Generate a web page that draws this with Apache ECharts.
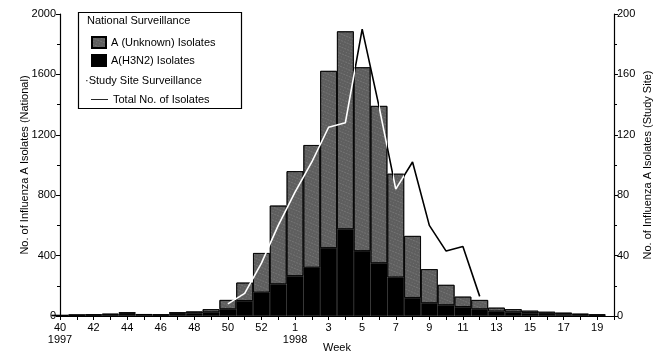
<!DOCTYPE html>
<html>
<head>
<meta charset="utf-8">
<script src="https://cdn.jsdelivr.net/npm/echarts@6/dist/echarts.min.js"></script>
<style>
html,body{margin:0;padding:0;background:#fff;}
#chart{width:665px;height:360px;}
</style>
</head>
<body>
<div id="chart"></div>
<script>
// Week categories (1997 week 40 .. 1998 week 19), plus an empty end slot
const weeks = ['40','41','42','43','44','45','46','47','48','49','50','51','52','53',
  '1','2','3','4','5','6','7','8','9','10','11','12','13','14','15','16','17','18','19'];
const yearStartLabels = { '40': '1997', '1': '1998' };

// National surveillance (left axis)
const h3n2Isolates = [3,5,6,8,15,8,6,15,18,25,45,100,155,210,
  265,320,450,575,430,350,255,120,85,72,60,45,30,25,20,15,12,8,5];
const unknownIsolates = [2,3,4,7,10,4,4,10,12,20,61,121,262,521,
  694,812,1173,1310,1217,1041,687,410,225,134,68,61,25,20,15,13,10,7,5];

// Study site surveillance (right axis)
const studySiteTotal = [null,null,null,null,null,null,null,null,null,null,
  8,15,35,60,82,102,125,128,190,139,84,102,60,43,46,13,
  null,null,null,null,null,null,null];

const leftTicks = { min: 0, max: 2000, interval: 400 };
const rightTicks = { min: 0, max: 200, interval: 40 };

const FONT = 'Liberation Sans, Arial, sans-serif';
const categories = weeks.concat(['']);
const plain = function (v) { return String(v); };
const stipple = {
  symbol: 'rect', symbolSize: 0.6, color: 'rgba(255,255,255,0.45)',
  dashArrayX: [[1, 2], [2, 1]], dashArrayY: [1, 2], rotation: 0.4
};
// line drawn against the week index scale (same scale as the category ticks)
const studySitePoints = studySiteTotal.map(function (v, i) { return [i, v == null ? '-' : v]; });

const chart = echarts.init(document.getElementById('chart'));
chart.setOption({
  animation: false,
  backgroundColor: '#fff',
  textStyle: { fontFamily: FONT, color: '#000' },
  grid: { left: 60, right: 51, top: 14, bottom: 44 },
  xAxis: [{
    type: 'category',
    data: categories,
    boundaryGap: false,
    name: 'Week',
    nameLocation: 'middle',
    nameGap: 26,
    nameMoveOverlap: false,
    nameTextStyle: { fontSize: 11, color: '#000', fontFamily: FONT },
    axisLine: { lineStyle: { color: '#000', width: 1.2 } },
    axisTick: { interval: 0, length: 4, lineStyle: { color: '#000' } },
    axisLabel: {
      interval: 1, fontSize: 11, color: '#000', margin: 6, lineHeight: 12,
      formatter: function (v) { return yearStartLabels[v] ? v + '\n' + yearStartLabels[v] : v; }
    },
    splitLine: { show: false }
  }, {
    type: 'value', min: 0, max: categories.length - 1, show: false
  }],
  yAxis: [{
    type: 'value', position: 'left',
    min: leftTicks.min, max: leftTicks.max, interval: leftTicks.interval,
    name: 'No. of Influenza A Isolates (National)',
    nameLocation: 'middle', nameGap: 30, nameRotate: 90, nameMoveOverlap: false,
    nameTextStyle: { fontSize: 11, color: '#000', fontFamily: FONT },
    axisLine: { show: true, lineStyle: { color: '#000', width: 1.2 } },
    axisTick: { show: true, length: 4, lineStyle: { color: '#000' } },
    minorTick: { show: true, splitNumber: 2, length: 3, lineStyle: { color: '#000' } },
    axisLabel: { fontSize: 11, color: '#000', margin: 4, formatter: plain },
    splitLine: { show: false }
  }, {
    type: 'value', position: 'right',
    min: rightTicks.min, max: rightTicks.max, interval: rightTicks.interval,
    name: 'No. of Influenza A Isolates (Study Site)',
    nameLocation: 'middle', nameGap: 28, nameRotate: 90, nameMoveOverlap: false,
    nameTextStyle: { fontSize: 11, color: '#000', fontFamily: FONT },
    axisLine: { show: true, lineStyle: { color: '#000', width: 1.2 } },
    axisTick: { show: true, length: 4, lineStyle: { color: '#000' } },
    minorTick: { show: true, splitNumber: 2, length: 3, lineStyle: { color: '#000' } },
    axisLabel: { fontSize: 11, color: '#000', margin: 3, formatter: plain },
    splitLine: { show: false }
  }],
  legend: [{
    orient: 'vertical', left: 86, top: 31, itemWidth: 14, itemHeight: 11, itemGap: 5,
    textStyle: { fontSize: 11, color: '#000', fontFamily: FONT },
    data: [
      { name: 'A (Unknown) Isolates', icon: 'rect' },
      { name: 'A(H3N2) Isolates', icon: 'rect' }
    ]
  }, {
    orient: 'vertical', left: 86, top: 89, itemWidth: 17, itemHeight: 11,
    textStyle: { fontSize: 11, color: '#000', fontFamily: FONT },
    data: [{ name: 'Total No. of Isolates', icon: 'path://M0,5 L20,5 L20,6 L0,6 Z',
      itemStyle: { color: '#000' }, lineStyle: { color: '#000' } }]
  }],
  graphic: [
    { type: 'rect', shape: { x: 78.5, y: 12.5, width: 163, height: 96 },
      style: { fill: 'none', stroke: '#000', lineWidth: 1.2 }, z: 10 },
    { type: 'text', left: 87, top: 15, z: 10,
      style: { text: 'National Surveillance', fontSize: 11, fill: '#000', fontFamily: FONT } },
    { type: 'text', left: 85, top: 75, z: 10,
      style: { text: '·Study Site Surveillance', fontSize: 11, fill: '#000', fontFamily: FONT } }
  ],
  // the study-site line shows white where it crosses the dark bars, black elsewhere
  visualMap: {
    type: 'piecewise', show: false, seriesIndex: 2, dimension: 0,
    pieces: [
      { lt: 17.59, color: '#ffffff' },
      { gte: 17.59, lt: 19.0, color: '#000000' },
      { gte: 19.0, lt: 19.5, color: '#ffffff' },
      { gte: 19.5, lt: 19.81, color: '#000000' },
      { gte: 19.81, lt: 20.5, color: '#ffffff' },
      { gte: 20.5, color: '#000000' }
    ]
  },
  series: [{
    name: 'A(H3N2) Isolates', type: 'bar', stack: 'nat',
    data: h3n2Isolates, barCategoryGap: '0%',
    itemStyle: { color: '#000', borderColor: '#000', borderWidth: 0.6 }
  }, {
    name: 'A (Unknown) Isolates', type: 'bar', stack: 'nat',
    data: unknownIsolates, barCategoryGap: '0%',
    itemStyle: { color: '#5e5e5e', borderColor: '#000', borderWidth: 0.8, decal: stipple }
  }, {
    name: 'Total No. of Isolates', type: 'line', xAxisIndex: 1, yAxisIndex: 1,
    data: studySitePoints, showSymbol: false, symbol: 'none', connectNulls: false,
    lineStyle: { width: 1.6 }, z: 5
  }]
});
</script>
</body>
</html>
